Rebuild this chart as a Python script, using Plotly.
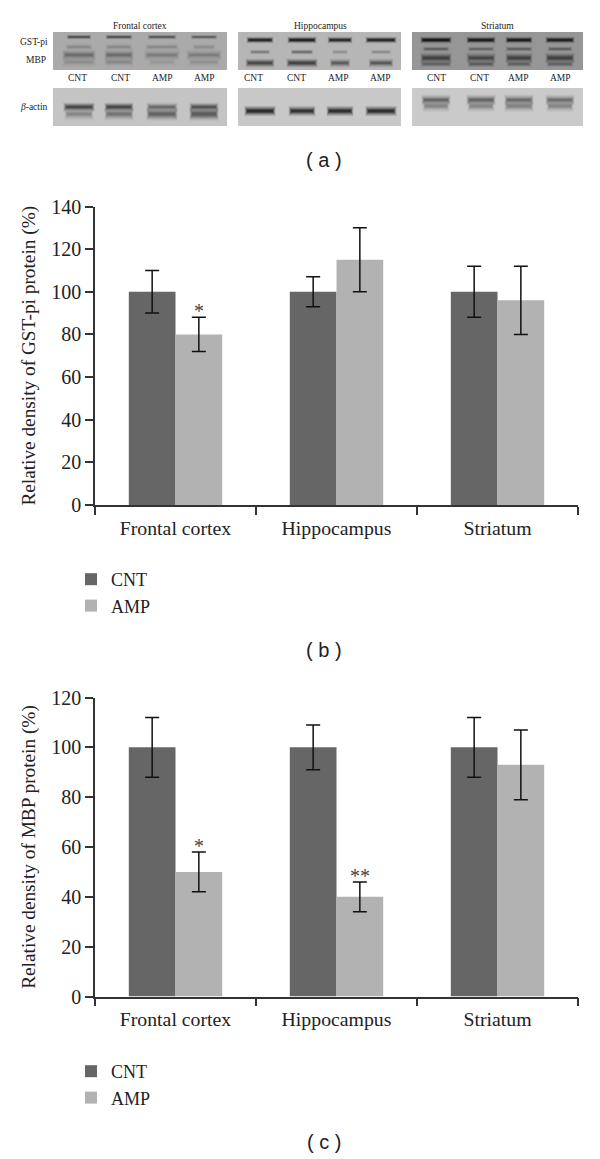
import plotly.graph_objects as go

W, H = 600, 1159
regions = ["Frontal cortex", "Hippocampus", "Striatum"]
gst_cnt = [100, 100, 100]
gst_amp = [80, 115, 96]
gst_cnt_err = [10, 7, 12]
gst_amp_err = [8, 15, 16]
mbp_cnt = [100, 100, 100]
mbp_amp = [50, 40, 93]
mbp_cnt_err = [12, 9, 12]
mbp_amp_err = [8, 6, 14]
lane_labels = ["CNT", "CNT", "AMP", "AMP"]

CNT_COLOR = "#666666"
AMP_COLOR = "#b2b2b2"
SERIF = "Liberation Serif"
SANS = "Liberation Sans"

# western-blot panels: (x0, x1, y0, y1, background)
blot_panels = [
    (53, 227, 32, 70, "#aaaaaa"), (238, 401, 32, 70, "#b6b6b6"), (412, 583, 32, 70, "#969696"),
    (53, 227, 88, 126, "#c4c4c4"), (238, 401, 88, 126, "#c8c8c8"), (412, 583, 88, 126, "#cacaca"),
]
# bands: (lane centres, half widths, y, thickness, colour, opacity per lane)
blot_bands = [
    ((79, 119, 162, 204), (11, 12, 13, 12), 37, 1.8, "#333333", (.7, .7, .6, .5)),
    ((79, 119, 162, 204), (12, 12, 15, 10), 47, 2.5, "#666666", (.3, .3, .3, .25)),
    ((79, 119, 162, 204), (15, 13, 16, 16), 55, 4, "#555555", (.55, .55, .35, .35)),
    ((79, 119, 162, 204), (15, 13, 12, 14), 62, 3.5, "#777777", (.35, .45, .15, .3)),
    ((260, 302, 340, 381), (12, 13, 11, 14), 40, 2.5, "#111111", (.9, 1, .85, .9)),
    ((260, 302, 340, 381), (9, 10, 7, 9), 52, 2, "#555555", (.45, .65, .25, .3)),
    ((260, 302, 340, 381), (13, 14, 9, 11), 63, 3.5, "#333333", (.75, .85, .5, .55)),
    ((436, 481, 519, 560), (14, 13, 12, 13), 40, 2.5, "#0c0c0c", (1, .95, .95, .9)),
    ((436, 481, 519, 560), (12, 12, 12, 11), 49, 2, "#444444", (.55, .45, .55, .55)),
    ((436, 481, 519, 560), (14, 13, 12, 13), 58, 4, "#333333", (.8, .65, .75, .8)),
    ((436, 481, 519, 560), (14, 12, 11, 12), 64, 2.5, "#4a4a4a", (.55, .65, .55, .55)),
    ((79, 119, 162, 204), (14, 13, 14, 13), 107, 3.5, "#333333", (.8, .8, .45, .65)),
    ((79, 119, 162, 204), (13, 13, 14, 13), 114, 5, "#555555", (.35, .55, .8, 1)),
    ((260, 302, 340, 381), (14, 12, 12, 14), 111, 4, "#1f1f1f", (.95, .85, .9, .9)),
    ((436, 481, 519, 560), (13, 13, 13, 13), 100, 4, "#555555", (.75, .8, .7, .65)),
    ((436, 481, 519, 560), (12, 12, 13, 12), 106, 4.5, "#777777", (.65, .65, .75, .65)),
]
panel_titles = [("Frontal cortex", 140), ("Hippocampus", 320), ("Striatum", 497)]
lane_label_x = [(77, 120, 162, 204), (253, 296, 338, 380), (436, 479, 518, 560)]


def px(x):
    return x / W


def py(y):
    return 1 - y / H


fig = go.Figure()
for xa, ya, cnt, amp, ce, ae, lg in [
    ("x", "y", gst_cnt, gst_amp, gst_cnt_err, gst_amp_err, "legend"),
    ("x2", "y2", mbp_cnt, mbp_amp, mbp_cnt_err, mbp_amp_err, "legend2"),
]:
    for name, vals, err, col in [("CNT", cnt, ce, CNT_COLOR), ("AMP", amp, ae, AMP_COLOR)]:
        fig.add_trace(go.Bar(
            x=regions, y=vals, name=name, marker=dict(color=col, line=dict(width=0)),
            error_y=dict(type="data", array=err, color="#111111", thickness=1.5, width=7),
            xaxis=xa, yaxis=ya, legend=lg, offsetgroup=name,
        ))

title_font = dict(family=SERIF, size=19.3, color="#222222")
common_x = dict(type="category", tickson="boundaries", ticks="outside", ticklen=8, tickwidth=1.5,
                tickcolor="#333333", showline=True, linecolor="#333333", linewidth=1.5,
                showgrid=False, zeroline=False, ticklabelstandoff=4,
                tickfont=dict(family=SERIF, size=19.8, color="#222222"))
common_y = dict(ticks="outside", ticklen=8, tickwidth=1.5, tickcolor="#333333", showline=True,
                linecolor="#333333", linewidth=1.5, showgrid=False, zeroline=False,
                tickfont=dict(family=SERIF, size=20, color="#222222"))
legend_common = dict(xanchor="left", yanchor="top", bgcolor="rgba(0,0,0,0)",
                     font=dict(family=SERIF, size=18, color="#222222"), tracegroupgap=0, itemwidth=30)

fig.update_layout(
    width=W, height=H, margin=dict(l=0, r=0, t=0, b=0, autoexpand=False),
    paper_bgcolor="white", plot_bgcolor="white",
    barmode="group", bargap=0.42, bargroupgap=0,
    xaxis=dict(domain=[px(95), px(578)], anchor="y", **common_x),
    yaxis=dict(domain=[py(505), py(206.5)], anchor="x", range=[0, 140], dtick=20,
               title=dict(text="Relative density of GST-pi protein (%)", standoff=10, font=title_font), **common_y),
    xaxis2=dict(domain=[px(95), px(578)], anchor="y2", **common_x),
    yaxis2=dict(domain=[py(996.5), py(697.5)], anchor="x2", range=[0, 120], dtick=20,
                title=dict(text="Relative density of MBP protein (%)", standoff=10, font=title_font), **common_y),
    legend=dict(x=px(71), y=py(561), **legend_common),
    legend2=dict(x=px(71), y=py(1053), **legend_common),
)

shapes = []
for x0, x1, y0, y1, bg in blot_panels:
    shapes.append(dict(type="rect", xref="paper", yref="paper", x0=px(x0), x1=px(x1), y0=py(y0), y1=py(y1),
                       fillcolor=bg, line=dict(width=0), layer="below"))
for xs, hws, y, t, col, ops in blot_bands:
    for xc, hw, op in zip(xs, hws, ops):
        for mult, lenf, fade in [(2.6, 1.12, .12), (2.1, 1.08, .16), (1.7, 1.04, .2), (1.3, 1.0, .3), (.9, .96, .5), (.5, .9, .6)]:
            shapes.append(dict(type="line", xref="paper", yref="paper", x0=px(xc - hw * lenf), x1=px(xc + hw * lenf),
                               y0=py(y), y1=py(y), line=dict(color=col, width=t * mult),
                               opacity=op * fade, layer="below"))
fig.update_layout(shapes=shapes)


def note(text, x, y, size, family=SERIF, xref="paper", yref="paper", color="#222222"):
    fig.add_annotation(text=text, x=x, y=y, xref=xref, yref=yref, showarrow=False, xanchor="center",
                       yanchor="middle", font=dict(family=family, size=size, color=color))


for t, x in panel_titles:
    note(t, px(x), py(26), 9.5)
for xs in lane_label_x:
    for x, t in zip(xs, lane_labels):
        note(t, px(x), py(78), 9.5)
note("GST-pi", px(34), py(42), 9.5)
note("MBP", px(36), py(60), 9.5)
note("<i>β</i>-actin", px(34), py(107), 9.5)
note("( a )", px(324), py(160), 20, SANS)
note("( b )", px(324), py(650), 20, SANS)
note("( c )", px(324), py(1142), 20, SANS)
note("*", 0.145, 91, 20, xref="x", yref="y", color="#444444")
note("*", 0.145, 60.5, 20, xref="x2", yref="y2", color="#444444")
note("**", 1.145, 48.5, 20, xref="x2", yref="y2", color="#444444")

fig.write_html("out.html", config=dict(displayModeBar=False), post_script="document.body.style.margin='0';")
